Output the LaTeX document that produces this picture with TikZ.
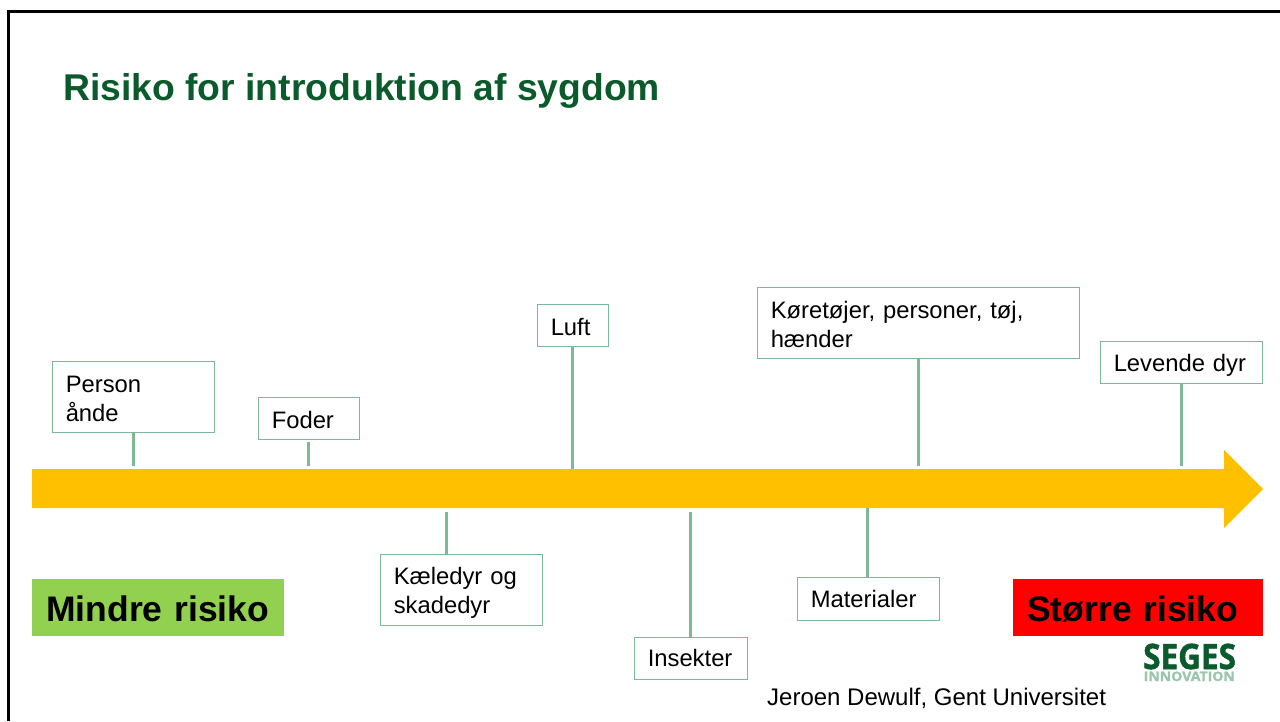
\documentclass[tikz,border=0pt]{standalone}
\usepackage{xcolor}
\usepackage{fontspec}
\setmainfont{Liberation Sans}
\newfontfamily\logofont[BoldFeatures={FakeBold=1.5}]{Open Sans}
\usepackage{tikz}
\usetikzlibrary{positioning}

\definecolor{titlegreen}{HTML}{0B5A2B}
\definecolor{linegreen}{HTML}{7DB898}
\definecolor{scaleyellow}{HTML}{FFC000}
\definecolor{lowgreen}{HTML}{92D050}
\definecolor{logolight}{HTML}{9CC5AD}

\tikzset{
    riskbox/.style={draw=linegreen, line width=1pt, fill=white, anchor=north west, align=left,
        inner xsep=13pt, inner ysep=0pt, font=\fontsize{23.8}{29}\selectfont, text=black},
    riskline/.style={draw=linegreen, line width=3pt},
    scalelabel/.style={anchor=north west, minimum height=57pt, inner sep=0pt, font=\fontsize{35.5}{40}\selectfont\bfseries, text=black}
}

\begin{document}
\begin{tikzpicture}[x=1pt, y=-1pt]

    \useasboundingbox (0,0) rectangle (1280,721);

    % Frame
    \draw[black, line width=3pt] (8,721) -- (8,11.5) -- (1280,11.5);

    \node[anchor=west, inner sep=0pt, text=titlegreen, font=\fontsize{37.3}{42}\selectfont\bfseries] (title) at (63,91) {Risiko for introduktion af sygdom};

    % Risk scale
    \fill[scaleyellow] (32,469) -- (1224,469) -- (1224,450) -- (1263,489) -- (1224,528) -- (1224,508) -- (32,508) -- cycle;

    % Boxes above the scale
    \node[riskbox, minimum width=161.5pt, minimum height=70.5pt, text width=135pt] (person) at (52,361) {\rule{0pt}{20pt}Person\\ånde};
    \node[riskbox, minimum width=100.5pt, minimum height=41.5pt, text width=74pt] (foder) at (258,397) {\rule{0pt}{20pt}Foder};
    \node[riskbox, minimum width=70.5pt, minimum height=41.5pt, text width=44pt] (luft) at (537,304) {\rule{0pt}{20pt}Luft};
    \node[riskbox, minimum width=321.5pt, minimum height=70.5pt, text width=295pt] (koeretoejer) at (757,287) {\rule{0pt}{20pt}Køretøjer, personer, tøj,\\hænder};
    \node[riskbox, minimum width=161.5pt, minimum height=41.5pt, text width=135pt] (levende) at (1100,341) {\rule{0pt}{23pt}Levende dyr};

    % Boxes below the scale
    \node[riskbox, minimum width=161.5pt, minimum height=70.5pt, text width=135pt] (kaeledyr) at (380,554) {\rule{0pt}{24pt}Kæledyr og\\skadedyr};
    \node[riskbox, minimum width=112.5pt, minimum height=41.5pt, text width=86pt] (insekter) at (634,637) {Insekter};
    \node[riskbox, minimum width=141.5pt, minimum height=42.5pt, text width=115pt] (materialer) at (797,577) {Materialer};

    \coordinate (personend) at (133,466);
    \coordinate (foderstart) at (308.5,442);
    \coordinate (foderend) at (308.5,466);
    \coordinate (luftend) at (572.5,469);
    \coordinate (koeretoejerend) at (918,466);
    \coordinate (levendeend) at (1181,466);
    \coordinate (kaeledyrend) at (446,512);
    \coordinate (insekterend) at (690,512);
    \coordinate (materialerend) at (867,508);

    \foreach \x in {person, luft, koeretoejer, levende}{
        \draw[riskline] (\x.south -| \x end) -- (\x end);
    }
    \draw[riskline] (foderstart) -- (foderend);
    \foreach \x in {kaeledyr, insekter, materialer}{
        \draw[riskline] (\x end) -- (\x end |- \x.north);
    }

    \node[scalelabel, fill=lowgreen, minimum width=252pt, text width=252pt, align=left] (mindre) at (32,579) {\hspace*{14pt}\rule{0pt}{28pt}Mindre risiko};
    \node[scalelabel, fill=red, minimum width=250pt, text width=250pt, align=left] (stoerre) at (1013,579) {\hspace*{14pt}\rule{0pt}{28pt}Større risiko};

    % Logo
    \node[anchor=base west, inner sep=0pt, text=titlegreen, font=\fontsize{35}{35}\logofont\bfseries] (seges) at (1143,669) {\scalebox{.9}[1]{SEGES}};
    \node[anchor=base west, inner sep=0pt, text=logolight, font=\fontsize{13}{13}\logofont\bfseries] (innovation) at (1143.5,681) {\scalebox{1.08}[1]{INNOVATION}};

    \node[anchor=west, inner sep=0pt, text=black, font=\fontsize{24}{28}\selectfont] (kilde) at (767,698) {Jeroen Dewulf, Gent Universitet};

\end{tikzpicture}
\end{document}
